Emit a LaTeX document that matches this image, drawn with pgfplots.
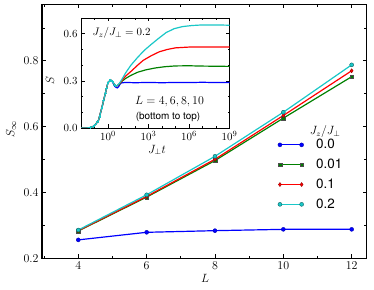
\documentclass[border=0pt]{standalone}
\usepackage{fontspec}
\newfontfamily\hel{TeX Gyre Heros}
\usepackage{pgfplots}
\pgfplotsset{compat=1.18}
\definecolor{cB}{rgb}{0,0,1}
\definecolor{cG}{rgb}{0,0.5,0}
\definecolor{cR}{rgb}{1,0,0}
\definecolor{cC}{rgb}{0.1,0.78,0.78}
\begin{document}
\begin{tikzpicture}
\useasboundingbox (0bp,0bp) rectangle (374bp,290bp);
\begin{axis}[
  at={(42bp,31.7bp)}, anchor=south west,
  scale only axis, width=324.7bp, height=254bp,
  xmin=2.938, xmax=12.44, ymin=0.2, ymax=0.972,
  xtick={4,6,8,10,12}, minor xtick={3,5,7,9,11},
  ytick={0.2,0.4,0.6,0.8}, minor ytick={0.3,0.5,0.7,0.9},
  tick align=inside, major tick length=4bp, minor tick length=2.5bp,
  axis line style={line width=1.2pt},
  every tick/.style={line width=0.8pt, black},
  yticklabel style={/pgf/number format/.cd, fixed, precision=1, fixed zerofill},
  tick label style={font=\fontsize{12}{14}\selectfont},
  xlabel={$L$}, ylabel={$S_\infty$},
  xlabel style={at={(axis description cs:0.502,-0.078)}, anchor=center, font=\fontsize{13}{15}\selectfont},
  ylabel style={at={(axis description cs:-0.095,0.509)}, anchor=center, font=\fontsize{13}{15}\selectfont},
  legend style={at={(axis description cs:0.726,0.475)}, anchor=north west, draw=none, fill=none,
    inner sep=0pt, row sep=5.8bp, column sep=11bp,
    font=\hel\fontsize{13.5}{15}\selectfont, nodes={inner sep=1.5bp}},
  legend cell align=left,
  legend image code/.code={\draw[#1] plot coordinates {(0bp,0bp) (21.7bp,0bp)};},
]
\addplot[cB, line width=1.2pt, mark=*, mark size=2bp, mark options={fill=cB, draw=cB!70!black, line width=0.4pt}]
  coordinates {(4,0.256) (6,0.279) (8,0.284) (10,0.288) (12,0.288)};
\addlegendentry{0.0}
\addplot[cG, line width=1.2pt, mark=square*, mark size=1.9bp, mark options={fill=cG, draw=black!70, line width=0.4pt}]
  coordinates {(4,0.283) (6,0.386) (8,0.497) (10,0.626) (12,0.752)};
\addlegendentry{0.01}
\addplot[cR, line width=1.2pt, mark=diamond*, mark size=2bp, mark options={fill=cR, draw=cR!60!black, line width=0.4pt}]
  coordinates {(4,0.284) (6,0.388) (8,0.501) (10,0.634) (12,0.770)};
\addlegendentry{0.1}
\addplot[cC, line width=1.2pt, mark=*, mark size=2bp, mark options={fill=cC, draw=cC!50!black, line width=0.4pt}]
  coordinates {(4,0.286) (6,0.393) (8,0.510) (10,0.644) (12,0.788)};
\addlegendentry{0.2}
\node[font=\fontsize{12}{14}\selectfont] at (axis description cs:0.872,0.498) {$J_z/J_\perp$};
\end{axis}
\begin{axis}[
  at={(81bp,162bp)}, anchor=south west,
  scale only axis, width=148.5bp, height=110bp,
  axis background/.style={fill=white},
  xmin=-2, xmax=9, ymin=0, ymax=0.7,
  xtick={0,3,6,9}, xticklabels={$10^{0}$,$10^{3}$,$10^{6}$,$10^{9}$},
  minor xtick={-2,-1,1,2,4,5,7,8},
  ytick={0,0.3,0.6}, minor ytick={0.1,0.2,0.4,0.5},
  tick align=inside, major tick length=3.5bp, minor tick length=2bp,
  axis line style={line width=1pt},
  every tick/.style={line width=0.7pt, black},
  yticklabel style={/pgf/number format/.cd, fixed, precision=1, fixed zerofill},
  tick label style={font=\fontsize{11}{13}\selectfont},
  xlabel={$J_\perp t$}, ylabel={$S$},
  xlabel style={at={(axis description cs:0.512,-0.2)}, anchor=center, font=\fontsize{12}{14}\selectfont},
  ylabel style={at={(axis description cs:-0.209,0.434)}, anchor=center, font=\fontsize{12}{14}\selectfont},
]
\addplot[cB, line width=1.2pt] coordinates {(-2,0) (-1.6,0) (-1.3,0.003) (-1.1,0.01) (-0.9,0.025) (-0.7,0.05) (-0.45,0.13) (-0.2,0.22) (0,0.29) (0.2,0.305) (0.35,0.29) (0.5,0.265) (0.6,0.258) (0.7,0.255) (0.8,0.265) (0.9,0.28) (1.0,0.287) (1.3,0.29) (2,0.288) (3,0.29) (4,0.288) (5,0.29) (6,0.289) (7,0.291) (8,0.289) (9,0.29)};
\addplot[cG, line width=1.2pt] coordinates {(-2,0) (-1.6,0) (-1.3,0.003) (-1.1,0.01) (-0.9,0.025) (-0.7,0.05) (-0.45,0.13) (-0.2,0.22) (0,0.29) (0.2,0.305) (0.35,0.295) (0.5,0.272) (0.6,0.266) (0.7,0.27) (0.85,0.28) (1.0,0.295) (1.3,0.315) (1.7,0.335) (2.2,0.355) (2.8,0.37) (3.5,0.382) (4.2,0.39) (5,0.395) (6,0.396) (7,0.394) (8,0.393) (9,0.392)};
\addplot[cR, line width=1.2pt] coordinates {(-2,0) (-1.6,0) (-1.3,0.003) (-1.1,0.01) (-0.9,0.025) (-0.7,0.05) (-0.45,0.13) (-0.2,0.22) (0,0.29) (0.2,0.305) (0.35,0.295) (0.5,0.272) (0.6,0.266) (0.7,0.27) (0.85,0.282) (1.0,0.298) (1.3,0.33) (1.7,0.36) (2.2,0.40) (2.6,0.43) (3.2,0.46) (3.8,0.485) (4.4,0.5) (5.0,0.51) (6,0.515) (7,0.516) (8,0.515) (9,0.515)};
\addplot[cC, line width=1.2pt] coordinates {(-2,0) (-1.6,0) (-1.3,0.003) (-1.1,0.01) (-0.9,0.025) (-0.7,0.05) (-0.45,0.13) (-0.2,0.22) (0,0.29) (0.2,0.305) (0.35,0.295) (0.5,0.272) (0.6,0.266) (0.7,0.272) (0.85,0.285) (1.0,0.305) (1.3,0.35) (1.7,0.40) (2.2,0.45) (2.7,0.495) (3.2,0.532) (3.7,0.567) (4.3,0.607) (4.9,0.632) (5.5,0.645) (6.2,0.652) (7,0.656) (8,0.656) (9,0.654)};
\addplot[cC, only marks, mark=+, mark size=1.4bp, mark options={line width=0.5pt}] coordinates {(-1.3,0.003) (-1.1,0.01) (-0.9,0.025) (-0.75,0.042) (-0.6,0.075) (-0.45,0.13) (-0.32,0.175) (-0.2,0.22) (-0.1,0.255) (0,0.29) (0.1,0.3) (0.2,0.305) (0.35,0.295) (0.5,0.272)};
\node[font=\fontsize{11}{13}\selectfont] at (axis description cs:0.274,0.866) {$J_z/J_\perp=0.2$};
\node[font=\fontsize{11.5}{13}\selectfont] at (axis description cs:0.596,0.244) {$L=4,6,8,10$};
\node[font=\hel\fontsize{10}{12}\selectfont] at (axis description cs:0.586,0.102) {(bottom to top)};
\end{axis}
\end{tikzpicture}
\end{document}
